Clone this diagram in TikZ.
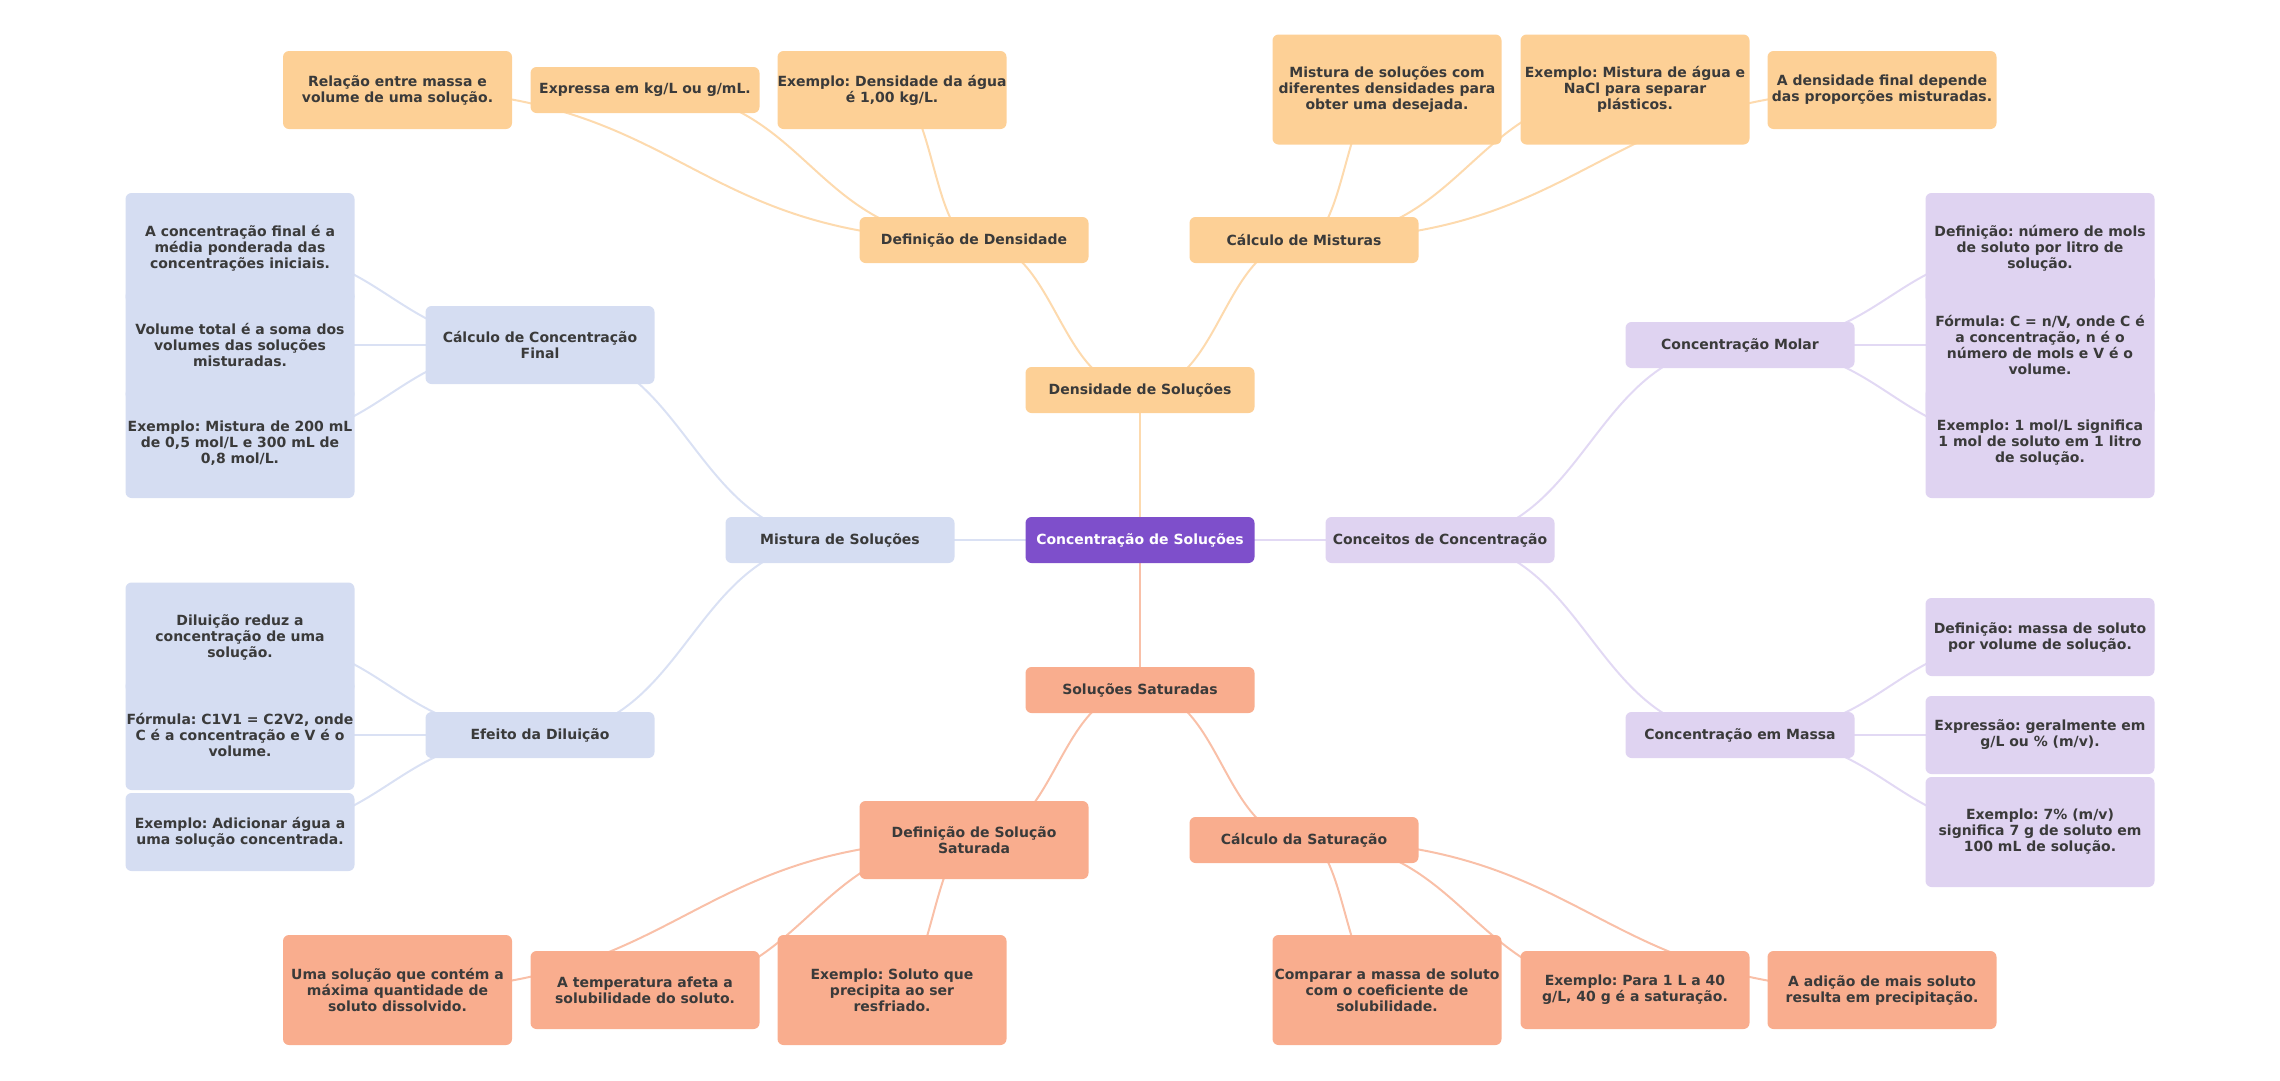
\documentclass[tikz,border=0pt]{standalone}
\usepackage{fontspec}
\setmainfont{DejaVu Sans}
\frenchspacing
\usetikzlibrary{calc,backgrounds}

\definecolor{ink}{HTML}{3A3A3A}
\definecolor{rootc}{HTML}{7E4FCB}
\definecolor{orng}{HTML}{FDD096}
\definecolor{orngln}{HTML}{FDDAAE}
\definecolor{blu}{HTML}{D5DDF2}
\definecolor{bluln}{HTML}{DAE1F4}
\definecolor{lil}{HTML}{DFD3F1}
\definecolor{lilln}{HTML}{E2D9F4}
\definecolor{salm}{HTML}{F9AD8E}
\definecolor{salmln}{HTML}{F9C0A8}

\tikzset{
  box/.style={fill=#1, rounded corners=6pt, text=ink,
    font=\bfseries\fontsize{14}{16}\selectfont, align=center,
    minimum width=229pt, minimum height=46pt, inner sep=0pt},
  two/.style={minimum height=78pt},
  three/.style={minimum height=110pt},
  four/.style={minimum height=142pt},
  link/.style={line width=2pt, to path={let \p1=(\tikztostart.center),
    \p2=(\tikztotarget.center) in
    (\p1) .. controls ({(\x1+\x2)/2},\y1) and ({(\x1+\x2)/2},\y2) .. (\p2)}}
}

\begin{document}
\begin{tikzpicture}[x=1pt,y=-1pt]
  \useasboundingbox (0,0) rectangle (2280,1080);

  % centre and main branches
  \node[box=rootc, text=white] (root) at (1140,540) {Concentração de Soluções};
  \node[box=orng] (dens) at (1140,390) {Densidade de Soluções};
  \node[box=blu] (mist) at (840,540) {Mistura de Soluções};
  \node[box=lil] (conceitos) at (1440,540) {Conceitos de Concentração};
  \node[box=salm] (satur) at (1140,690) {Soluções Saturadas};

  % densidade
  \node[box=orng] (defdens) at (974,240) {Definição de Densidade};
  \node[box=orng] (calcmist) at (1304,240) {Cálculo de Misturas};
  \node[box=orng, two] (relacao) at (397.5,90) {Relação entre massa e\\volume de uma solução.};
  \node[box=orng] (expressa) at (645,90) {Expressa em kg/L ou g/mL.};
  \node[box=orng, two] (exdens) at (892,90) {Exemplo: Densidade da água\\é 1,00 kg/L.};
  \node[box=orng, three] (mistdif) at (1387,89.5) {Mistura de soluções com\\diferentes densidades para\\obter uma desejada.};
  \node[box=orng, three] (exmist) at (1635,89.5) {Exemplo: Mistura de água e\\NaCl para separar\\plásticos.};
  \node[box=orng, two] (densfin) at (1882,90) {A densidade final depende\\das proporções misturadas.};

  % mistura
  \node[box=blu, two] (calcfinal) at (540,345) {Cálculo de Concentração\\Final};
  \node[box=blu] (efeito) at (540,735) {Efeito da Diluição};
  \node[box=blu, three] (cf1) at (240,248) {A concentração final é a\\média ponderada das\\concentrações iniciais.};
  \node[box=blu, three] (cf2) at (240,345) {Volume total é a soma dos\\volumes das soluções\\misturadas.};
  \node[box=blu, three] (cf3) at (240,443) {Exemplo: Mistura de 200 mL\\de 0,5 mol/L e 300 mL de\\0,8 mol/L.};
  \node[box=blu, three] (dil1) at (240,637.5) {Diluição reduz a\\concentração de uma\\solução.};
  \node[box=blu, three] (dil2) at (240,735) {Fórmula: C1V1 = C2V2, onde\\C é a concentração e V é o\\volume.};
  \node[box=blu, two] (dil3) at (240,832) {Exemplo: Adicionar água a\\uma solução concentrada.};

  % conceitos
  \node[box=lil] (molar) at (1740,345) {Concentração Molar};
  \node[box=lil] (massa) at (1740,735) {Concentração em Massa};
  \node[box=lil, three] (mol1) at (2040,248) {Definição: número de mols\\de soluto por litro de\\solução.};
  \node[box=lil, four] (mol2) at (2040,345) {Fórmula: C = n/V, onde C é\\a concentração, n é o\\número de mols e V é o\\volume.};
  \node[box=lil, three] (mol3) at (2040,443) {Exemplo: 1 mol/L significa\\1 mol de soluto em 1 litro\\de solução.};
  \node[box=lil, two] (mas1) at (2040,637) {Definição: massa de soluto\\por volume de solução.};
  \node[box=lil, two] (mas2) at (2040,735) {Expressão: geralmente em\\g/L ou \% (m/v).};
  \node[box=lil, three] (mas3) at (2040,832) {Exemplo: 7\% (m/v)\\significa 7 g de soluto em\\100 mL de solução.};

  % saturadas
  \node[box=salm, two] (defsat) at (974,840) {Definição de Solução\\Saturada};
  \node[box=salm] (calcsat) at (1304,840) {Cálculo da Saturação};
  \node[box=salm, three] (uma) at (397.5,990) {Uma solução que contém a\\máxima quantidade de\\soluto dissolvido.};
  \node[box=salm, two] (temp) at (645,990) {A temperatura afeta a\\solubilidade do soluto.};
  \node[box=salm, three] (exsol) at (892,990) {Exemplo: Soluto que\\precipita ao ser\\resfriado.};
  \node[box=salm, three] (comparar) at (1387,990) {Comparar a massa de soluto\\com o coeficiente de\\solubilidade.};
  \node[box=salm, two] (expara) at (1635,990) {Exemplo: Para 1 L a 40\\g/L, 40 g é a saturação.};
  \node[box=salm, two] (adicao) at (1882,990) {A adição de mais soluto\\resulta em precipitação.};

  \begin{scope}[on background layer]
  \path[draw=orngln]
  (root) edge[link] (dens)
  (dens) edge[link] (defdens)
  (dens) edge[link] (calcmist)
  (defdens) edge[link] (relacao)
  (defdens) edge[link] (expressa)
  (defdens) edge[link] (exdens)
  (calcmist) edge[link] (mistdif)
  (calcmist) edge[link] (exmist)
  (calcmist) edge[link] (densfin);
  \path[draw=bluln]
  (root) edge[link] (mist)
  (mist) edge[link] (calcfinal)
  (mist) edge[link] (efeito)
  (calcfinal) edge[link] (cf1)
  (calcfinal) edge[link] (cf2)
  (calcfinal) edge[link] (cf3)
  (efeito) edge[link] (dil1)
  (efeito) edge[link] (dil2)
  (efeito) edge[link] (dil3);
  \path[draw=lilln]
  (root) edge[link] (conceitos)
  (conceitos) edge[link] (molar)
  (conceitos) edge[link] (massa)
  (molar) edge[link] (mol1)
  (molar) edge[link] (mol2)
  (molar) edge[link] (mol3)
  (massa) edge[link] (mas1)
  (massa) edge[link] (mas2)
  (massa) edge[link] (mas3);
  \path[draw=salmln]
  (root) edge[link] (satur)
  (satur) edge[link] (defsat)
  (satur) edge[link] (calcsat)
  (defsat) edge[link] (uma)
  (defsat) edge[link] (temp)
  (defsat) edge[link] (exsol)
  (calcsat) edge[link] (comparar)
  (calcsat) edge[link] (expara)
  (calcsat) edge[link] (adicao);
  \end{scope}
\end{tikzpicture}
\end{document}
